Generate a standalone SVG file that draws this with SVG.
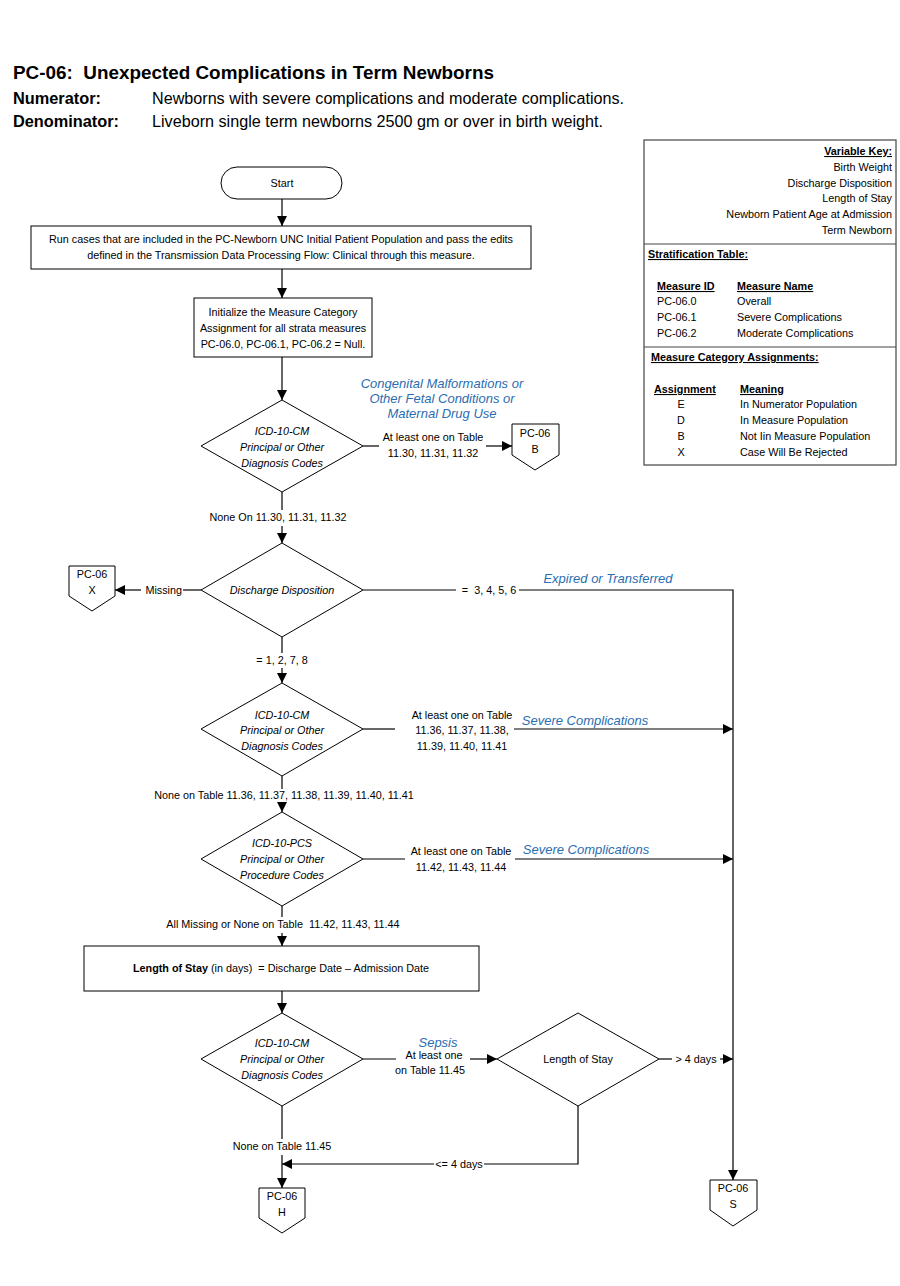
<svg xmlns="http://www.w3.org/2000/svg" width="900" height="1286" viewBox="0 0 900 1286">
<style>
text{font-family:"Liberation Sans",Arial,sans-serif;fill:#000}
.t{font-size:10.8px}
.c{text-anchor:middle}
.e{text-anchor:end}
.i{font-style:italic}
.b{font-weight:bold}
.u{text-decoration:underline}
.blue{fill:#2a6db0;font-style:italic;font-size:13px}
.shape{fill:#fff;stroke:#000;stroke-width:1}
.conn{fill:none;stroke:#000;stroke-width:1.2}
.key{fill:#fff;stroke:#444;stroke-width:1.2}
</style>
<defs>
<marker id="arr" viewBox="0 0 10 10" refX="10" refY="5" markerWidth="10" markerHeight="10" markerUnits="userSpaceOnUse" orient="auto">
<path d="M0,0 L10,5 L0,10 Z" fill="#000"/>
</marker>
</defs>
<rect width="900" height="1286" fill="#fff"/>

<g id="header">
<text x="13" y="79" class="b" font-size="19" textLength="481" lengthAdjust="spacingAndGlyphs">PC-06:&#160; Unexpected Complications in Term Newborns</text>
<text x="13" y="104" class="b" font-size="16" textLength="88" lengthAdjust="spacingAndGlyphs">Numerator:</text>
<text x="152" y="104" font-size="16" textLength="472" lengthAdjust="spacingAndGlyphs">Newborns with severe complications and moderate complications.</text>
<text x="13" y="127" class="b" font-size="16" textLength="106" lengthAdjust="spacingAndGlyphs">Denominator:</text>
<text x="152" y="127" font-size="16" textLength="451" lengthAdjust="spacingAndGlyphs">Liveborn single term newborns 2500 gm or over in birth weight.</text>
</g>

<g id="key">
<rect x="644" y="140" width="252" height="325" class="key"/>
<line x1="644" y1="244" x2="896" y2="244" stroke="#444" stroke-width="1.2"/>
<line x1="644" y1="347" x2="896" y2="347" stroke="#444" stroke-width="1.2"/>
<text x="892" y="155" class="t e b u">Variable Key:</text>
<text x="892" y="171" class="t e">Birth Weight</text>
<text x="892" y="187" class="t e">Discharge Disposition</text>
<text x="892" y="202" class="t e">Length of Stay</text>
<text x="892" y="218" class="t e">Newborn Patient Age at Admission</text>
<text x="892" y="234" class="t e">Term Newborn</text>
<text x="648" y="258" class="t b u">Stratification Table:</text>
<text x="657" y="290" class="t b u">Measure ID</text>
<text x="737" y="290" class="t b u">Measure Name</text>
<text x="657" y="305" class="t">PC-06.0</text>
<text x="737" y="305" class="t">Overall</text>
<text x="657" y="321" class="t">PC-06.1</text>
<text x="737" y="321" class="t">Severe Complications</text>
<text x="657" y="337" class="t">PC-06.2</text>
<text x="737" y="337" class="t">Moderate Complications</text>
<text x="651" y="361" class="t b u">Measure Category Assignments:</text>
<text x="654" y="393" class="t b u">Assignment</text>
<text x="740" y="393" class="t b u">Meaning</text>
<text x="681" y="408" class="t c">E</text>
<text x="740" y="408" class="t">In Numerator Population</text>
<text x="681" y="424" class="t c">D</text>
<text x="740" y="424" class="t">In Measure Population</text>
<text x="681" y="440" class="t c">B</text>
<text x="740" y="440" class="t">Not Iin Measure Population</text>
<text x="681" y="456" class="t c">X</text>
<text x="740" y="456" class="t">Case Will Be Rejected</text>
</g>

<g id="start">
<rect x="221" y="167" width="121" height="32" rx="16" class="shape"/>
<text x="282" y="187" class="t c">Start</text>
</g>

<g id="run">
<rect x="31" y="226" width="500" height="43" class="shape"/>
<text x="281" y="243" class="t c">Run cases that are included in the PC-Newborn UNC Initial Patient Population and pass the edits</text>
<text x="281" y="259" class="t c">defined in the Transmission Data Processing Flow: Clinical through this measure.</text>
</g>

<g id="init">
<rect x="194" y="298" width="178" height="59" class="shape"/>
<text x="283" y="316" class="t c">Initialize the Measure Category</text>
<text x="283" y="332" class="t c">Assignment for all strata measures</text>
<text x="283" y="348" class="t c">PC-06.0, PC-06.1, PC-06.2 = Null.</text>
</g>

<g id="d1">
<polygon points="282,400 363,446 282,492 201,446" class="shape"/>
<text x="282" y="435" class="t c i">ICD-10-CM</text>
<text x="282" y="451" class="t c i">Principal or Other</text>
<text x="282" y="467" class="t c i">Diagnosis Codes</text>
</g>

<g id="offB">
<polygon points="512,424 559,424 559,455 535,470 512,455" class="shape"/>
<text x="535" y="437" class="t c">PC-06</text>
<text x="535" y="453" class="t c">B</text>
</g>

<g id="d2">
<polygon points="282,543 363,590 282,637 201,590" class="shape"/>
<text x="282" y="594" class="t c i">Discharge Disposition</text>
</g>

<g id="offX">
<polygon points="69,566 115,566 115,596 92,611 69,596" class="shape"/>
<text x="92" y="578" class="t c">PC-06</text>
<text x="92" y="594" class="t c">X</text>
</g>

<g id="d3">
<polygon points="282,683 363,729 282,776 201,729" class="shape"/>
<text x="282" y="719" class="t c i">ICD-10-CM</text>
<text x="282" y="734" class="t c i">Principal or Other</text>
<text x="282" y="750" class="t c i">Diagnosis Codes</text>
</g>

<g id="d4">
<polygon points="282,812 363,859 282,906 201,859" class="shape"/>
<text x="282" y="847" class="t c i">ICD-10-PCS</text>
<text x="282" y="863" class="t c i">Principal or Other</text>
<text x="282" y="879" class="t c i">Procedure Codes</text>
</g>

<g id="los">
<rect x="84" y="946" width="395" height="45" class="shape"/>
<text x="281" y="972" class="t c"><tspan class="b">Length of Stay</tspan> (in days)&#160; = Discharge Date – Admission Date</text>
</g>

<g id="d5">
<polygon points="282,1013 363,1059 282,1106 201,1059" class="shape"/>
<text x="282" y="1047" class="t c i">ICD-10-CM</text>
<text x="282" y="1063" class="t c i">Principal or Other</text>
<text x="282" y="1079" class="t c i">Diagnosis Codes</text>
</g>

<g id="d6">
<polygon points="578,1013 659,1059 578,1106 497,1059" class="shape"/>
<text x="578" y="1063" class="t c">Length of Stay</text>
</g>

<g id="offH">
<polygon points="259,1188 305,1188 305,1218 282,1233 259,1218" class="shape"/>
<text x="282" y="1200" class="t c">PC-06</text>
<text x="282" y="1216" class="t c">H</text>
</g>

<g id="offS">
<polygon points="710,1180 757,1180 757,1210 733,1226 710,1210" class="shape"/>
<text x="733" y="1192" class="t c">PC-06</text>
<text x="733" y="1208" class="t c">S</text>
</g>

<g id="connectors">
<path d="M282,199 V226" class="conn" marker-end="url(#arr)"/>
<path d="M282,269 V298" class="conn" marker-end="url(#arr)"/>
<path d="M282,357 V400" class="conn" marker-end="url(#arr)"/>
<path d="M363,446 H379" class="conn"/>
<path d="M486,446 H512" class="conn" marker-end="url(#arr)"/>
<path d="M282,492 V510" class="conn"/>
<path d="M282,526 V543" class="conn" marker-end="url(#arr)"/>
<path d="M201,590 H183" class="conn"/>
<path d="M141,590 H115" class="conn" marker-end="url(#arr)"/>
<path d="M363,590 H456" class="conn"/>
<path d="M519,590 H733 V1180" class="conn" marker-end="url(#arr)"/>
<path d="M282,637 V653" class="conn"/>
<path d="M282,668 V683" class="conn" marker-end="url(#arr)"/>
<path d="M363,729 H395" class="conn"/>
<path d="M514,729 H733" class="conn" marker-end="url(#arr)"/>
<path d="M282,776 V789" class="conn"/>
<path d="M282,803 V812" class="conn" marker-end="url(#arr)"/>
<path d="M363,859 H405" class="conn"/>
<path d="M515,859 H733" class="conn" marker-end="url(#arr)"/>
<path d="M282,906 V917" class="conn"/>
<path d="M282,933 V946" class="conn" marker-end="url(#arr)"/>
<path d="M282,991 V1013" class="conn" marker-end="url(#arr)"/>
<path d="M363,1059 H396" class="conn"/>
<path d="M470,1059 H497" class="conn" marker-end="url(#arr)"/>
<path d="M659,1059 H672" class="conn"/>
<path d="M720,1059 H733" class="conn" marker-end="url(#arr)"/>
<path d="M578,1106 V1164 H484" class="conn"/>
<path d="M434,1164 H282" class="conn" marker-end="url(#arr)"/>
<path d="M282,1106 V1139" class="conn"/>
<path d="M282,1155 V1188" class="conn" marker-end="url(#arr)"/>

<text x="442" y="388" class="blue c">Congenital Malformations or</text>
<text x="442" y="403" class="blue c">Other Fetal Conditions or</text>
<text x="442" y="418" class="blue c">Maternal Drug Use</text>
<text x="433" y="441" class="t c">At least one on Table</text>
<text x="433" y="457" class="t c">11.30, 11.31, 11.32</text>
<text x="278" y="521" class="t c">None On 11.30, 11.31, 11.32</text>
<text x="182" y="594" class="t e">Missing</text>
<text x="489" y="594" class="t c">=&#160; 3, 4, 5, 6</text>
<text x="608" y="583" class="blue c">Expired or Transferred</text>
<text x="282" y="664" class="t c">= 1, 2, 7, 8</text>
<text x="462" y="719" class="t c">At least one on Table</text>
<text x="462" y="734" class="t c">11.36, 11.37, 11.38,</text>
<text x="462" y="750" class="t c">11.39, 11.40, 11.41</text>
<text x="585" y="725" class="blue c">Severe Complications</text>
<text x="284" y="799" class="t c">None on Table 11.36, 11.37, 11.38, 11.39, 11.40, 11.41</text>
<text x="461" y="855" class="t c">At least one on Table</text>
<text x="461" y="871" class="t c">11.42, 11.43, 11.44</text>
<text x="586" y="854" class="blue c">Severe Complications</text>
<text x="283" y="928" class="t c">All Missing or None on Table&#160; 11.42, 11.43, 11.44</text>
<text x="438" y="1047" class="blue c">Sepsis</text>
<text x="434" y="1059" class="t c">At least one</text>
<text x="430" y="1074" class="t c">on Table 11.45</text>
<text x="696" y="1063" class="t c">&gt; 4 days</text>
<text x="459" y="1168" class="t c">&lt;= 4 days</text>
<text x="282" y="1150" class="t c">None on Table 11.45</text>
</g>
</svg>
